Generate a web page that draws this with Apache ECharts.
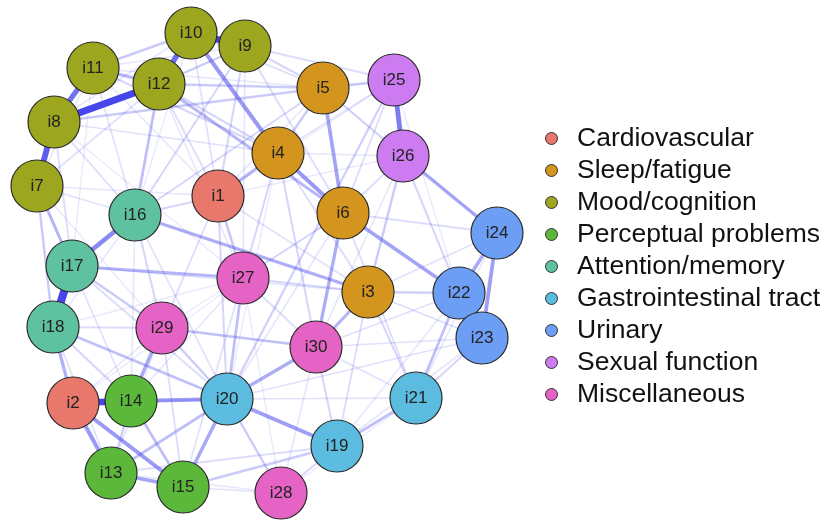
<!DOCTYPE html>
<html>
<head>
<meta charset="utf-8">
<script src="https://cdn.jsdelivr.net/npm/echarts@6/dist/echarts.min.js"></script>
<style>
  html, body { margin: 0; padding: 0; background: #fff; }
  #chart { width: 826px; height: 520px; }
</style>
</head>
<body>
<div id="chart"></div>
<script>
// groups (legend order) and their colours
var groupNames = ['Cardiovascular', 'Sleep/fatigue', 'Mood/cognition', 'Perceptual problems',
    'Attention/memory', 'Gastrointestinal tract', 'Urinary', 'Sexual function', 'Miscellaneous'];
var groupColors = ['#E8776C', '#D3951E', '#9CA61F', '#5CB83A', '#5EC2A0', '#5BBCE0', '#6C9EF6', '#CC7BF0', '#E463C4'];

// nodes i1..i30: group index and layout position
var nodeGroup = [0, 0, 1, 1, 1, 1, 2, 2, 2, 2, 2, 2, 3, 3, 3, 4, 4, 4, 5, 5, 5, 6, 6, 6, 7, 7, 8, 8, 8, 8];
var nodeX = [218, 73, 368, 278, 323, 343, 37, 54, 245, 191, 93, 159, 111, 131, 183, 135, 72, 53, 337, 227, 416, 459, 482, 497, 394, 403, 243, 281, 162, 316];
var nodeY = [196, 403, 292, 153, 88, 213, 186, 122, 46, 33, 68, 84, 473, 401, 487, 215, 266, 327, 446, 399, 398, 293, 338, 233, 80, 156, 278, 493, 328, 347];

// edges: [from, to, weight]
var edges = [
    [17, 18, 1.0], [8, 12, 0.85], [10, 9, 0.8], [2, 14, 0.8], [8, 7, 0.7], [8, 11, 0.6], [10, 12, 0.62],
    [25, 26, 0.55], [16, 17, 0.5],
    [10, 4, 0.42], [4, 6, 0.42], [12, 6, 0.28], [5, 6, 0.38], [6, 22, 0.38], [26, 24, 0.35], [24, 22, 0.35],
    [24, 23, 0.4], [22, 23, 0.3], [20, 19, 0.4], [20, 14, 0.4], [20, 15, 0.35], [2, 13, 0.42], [2, 15, 0.42],
    [13, 15, 0.38], [14, 29, 0.35], [7, 17, 0.3], [18, 2, 0.32], [20, 30, 0.33], [30, 3, 0.3], [6, 30, 0.33],
    [16, 3, 0.33], [17, 27, 0.3], [1, 4, 0.3], [11, 12, 0.3],
    [1, 27, 0.22], [12, 16, 0.25], [9, 1, 0.15], [12, 5, 0.2], [8, 5, 0.2], [5, 25, 0.22], [5, 4, 0.2],
    [25, 20, 0.18], [26, 3, 0.2], [27, 20, 0.25], [29, 30, 0.25], [17, 29, 0.2], [18, 20, 0.25], [29, 20, 0.2],
    [14, 13, 0.2], [20, 13, 0.25], [15, 19, 0.2], [20, 28, 0.2], [19, 21, 0.25], [21, 22, 0.25], [7, 18, 0.2],
    [18, 14, 0.15], [16, 9, 0.15], [16, 5, 0.15], [3, 22, 0.18], [11, 10, 0.2], [9, 12, 0.2], [11, 4, 0.15],
    [9, 25, 0.12], [9, 5, 0.15], [1, 16, 0.15], [1, 20, 0.15], [27, 3, 0.15], [4, 30, 0.15], [16, 29, 0.15],
    [17, 20, 0.12], [14, 15, 0.25], [13, 19, 0.12], [2, 20, 0.15], [19, 28, 0.15], [21, 23, 0.15], [3, 21, 0.15],
    [6, 21, 0.12], [26, 22, 0.15], [5, 26, 0.12], [25, 6, 0.12], [4, 27, 0.15], [6, 27, 0.12], [1, 29, 0.12],
    [12, 1, 0.12], [8, 16, 0.12], [7, 16, 0.1], [11, 16, 0.1], [8, 17, 0.12], [12, 4, 0.15], [10, 5, 0.12],
    [9, 6, 0.12], [25, 4, 0.1], [26, 6, 0.12], [3, 23, 0.12], [30, 19, 0.15], [30, 21, 0.1], [3, 19, 0.12],
    [27, 30, 0.12], [29, 18, 0.12], [17, 14, 0.1], [18, 13, 0.1], [29, 15, 0.12], [27, 15, 0.1], [1, 3, 0.1],
    [4, 3, 0.12], [16, 20, 0.1], [17, 3, 0.1], [24, 3, 0.1], [24, 6, 0.12], [22, 30, 0.1], [23, 20, 0.1],
    [23, 30, 0.1], [28, 15, 0.1], [28, 13, 0.08], [21, 20, 0.1], [24, 5, 0.08], [26, 4, 0.08], [10, 1, 0.1],
    [11, 1, 0.08], [7, 12, 0.1], [7, 1, 0.08], [8, 4, 0.1], [11, 5, 0.08], [11, 9, 0.08], [8, 10, 0.08],
    [7, 11, 0.08], [7, 29, 0.06], [8, 27, 0.06], [11, 17, 0.06], [12, 27, 0.08], [10, 16, 0.06], [9, 27, 0.08],
    [5, 1, 0.08], [25, 1, 0.06], [26, 1, 0.06], [26, 30, 0.08], [25, 22, 0.06], [24, 21, 0.08], [22, 19, 0.08],
    [23, 19, 0.08], [21, 28, 0.06], [30, 28, 0.08], [27, 28, 0.06], [29, 13, 0.08], [16, 14, 0.08], [16, 18, 0.08],
    [2, 29, 0.08], [2, 27, 0.06], [14, 27, 0.08], [18, 27, 0.06], [6, 20, 0.08], [4, 20, 0.06], [6, 29, 0.06]
];

var nodes = [];
for (var i = 0; i < nodeX.length; i++) {
    nodes.push({ name: 'i' + (i + 1), value: [nodeX[i], nodeY[i]], category: nodeGroup[i] });
}

// weak edges first so the strong ones sit on top
var sorted = edges.slice().sort(function (a, b) { return a[2] - b[2]; });
var links = [];
for (var k = 0; k < sorted.length; k++) {
    var e = sorted[k];
    links.push({
        source: 'i' + e[0],
        target: 'i' + e[1],
        lineStyle: { width: 1 + e[2] * 7, opacity: Math.min(1, 0.04 + e[2] * 1.2) }
    });
}

var categories = [];
for (var g = 0; g < groupNames.length; g++) {
    categories.push({ name: groupNames[g], itemStyle: { color: groupColors[g] } });
}

var chart = echarts.init(document.getElementById('chart'));
chart.setOption({
    animation: false,
    grid: { left: 37, right: 329, top: 33, bottom: 27 },
    xAxis: { type: 'value', min: 37, max: 497, show: false },
    yAxis: { type: 'value', min: 33, max: 493, inverse: true, show: false },
    legend: {
        data: groupNames,
        orient: 'vertical',
        left: 540,
        top: 120,
        icon: 'circle',
        itemWidth: 41,
        itemHeight: 12,
        itemGap: 5,
        itemStyle: { borderColor: '#333', borderWidth: 1 },
        textStyle: { fontFamily: 'Liberation Sans', fontSize: 26.5, lineHeight: 27, color: '#111' }
    },
    series: [{
        type: 'graph',
        coordinateSystem: 'cartesian2d',
        layout: 'none',
        symbol: 'circle',
        symbolSize: 52,
        categories: categories,
        data: nodes,
        links: links,
        itemStyle: { borderColor: '#2a2a2a', borderWidth: 1.2 },
        label: {
            show: true,
            position: 'inside',
            fontFamily: 'Liberation Sans',
            fontSize: 17,
            color: '#222'
        },
        lineStyle: { color: '#4646EB', curveness: 0 },
        emphasis: { disabled: true }
    }]
});
</script>
</body>
</html>
